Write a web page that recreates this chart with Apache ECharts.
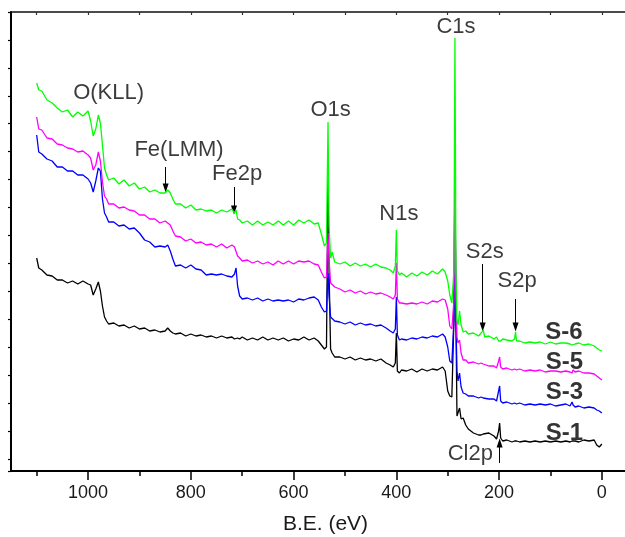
<!DOCTYPE html>
<html>
<head>
<meta charset="utf-8">
<script src="https://cdn.jsdelivr.net/npm/echarts@6/dist/echarts.min.js"></script>
<style>
  html, body { margin: 0; padding: 0; background: #fff; }
  #xps-chart { width: 625px; height: 537px; }
</style>
</head>
<body>
<div id="xps-chart"></div>
<script>
"use strict";

// binding energy (eV), shared by all spectra
var energy = [
  1100, 1096, 1090, 1080, 1070, 1060, 1050, 1040, 1030, 1020,
  1010, 1000, 995, 990, 985, 980, 976, 972, 968, 964,
  960, 950, 940, 930, 920, 910, 900, 890, 880, 870,
  860, 850, 845, 840, 835, 830, 820, 810, 800, 790,
  780, 770, 760, 750, 740, 730, 720, 715, 712, 709,
  705, 700, 690, 680, 670, 660, 650, 640, 630, 620,
  610, 600, 590, 580, 570, 560, 552, 546, 540, 536,
  533, 531, 528, 525, 520, 510, 500, 490, 480, 470,
  460, 450, 440, 430, 420, 412, 406, 402, 400, 398,
  394, 390, 380, 370, 360, 350, 340, 330, 320, 310,
  305, 300, 296, 292, 288, 286, 284, 282, 280, 277,
  274, 270, 265, 260, 250, 240, 235, 231, 228, 220,
  210, 205, 201, 199, 197, 193, 185, 175, 170, 168,
  166, 160, 150, 140, 130, 120, 110, 100, 90, 80,
  70, 62, 58, 56, 52, 45, 35, 25, 15, 10,
  5, 0
];

// intensities (a.u., offset as in the figure)
var s6 = [
  388, 381, 380, 371, 368, 363, 359, 361, 354, 359,
  355, 360, 350, 335, 342, 356, 348, 326, 303, 296,
  291, 293, 287, 291, 285, 288, 282, 284, 279, 281,
  278, 278, 281, 278, 272, 267, 267, 263, 266, 261,
  262, 260, 261, 258, 261, 259, 262, 258, 261, 252,
  251, 248, 250, 246, 250, 246, 249, 246, 250, 246,
  250, 246, 251, 248, 251, 247, 248, 237, 225, 228,
  349, 245, 213, 219, 209, 207, 209, 205, 208, 205,
  207, 204, 207, 204, 203, 201, 198, 205, 241, 200,
  196, 198, 194, 198, 195, 199, 196, 200, 197, 202,
  199, 190, 176, 168, 200, 433, 200, 150, 146, 160,
  146, 139, 140, 137, 138, 135, 138, 141, 134, 135,
  132, 134, 130, 132, 130, 132, 131, 130, 132, 139,
  130, 130, 128, 129, 128, 129, 127, 129, 127, 128,
  128, 127, 126, 128, 127, 128, 126, 127, 125, 123,
  121, 120
];
var s5 = [
  354, 342, 341, 333, 332, 327, 326, 323, 322, 319,
  320, 316, 313, 301, 306, 319, 310, 289, 275, 272,
  267, 267, 263, 264, 261, 260, 256, 256, 252, 252,
  248, 250, 248, 246, 240, 235, 234, 230, 232, 228,
  229, 226, 227, 224, 227, 223, 226, 224, 225, 215,
  213, 210, 211, 208, 210, 207, 209, 206, 210, 207,
  210, 207, 210, 209, 210, 207, 206, 199, 193, 194,
  238, 212, 188, 190, 184, 182, 179, 181, 178, 180,
  177, 179, 177, 178, 176, 174, 172, 176, 208, 172,
  168, 168, 167, 168, 167, 169, 167, 170, 169, 172,
  171, 162, 145, 142, 170, 300, 170, 134, 128, 131,
  118, 111, 111, 108, 109, 107, 108, 107, 106, 105,
  105, 103, 110, 114, 104, 102, 103, 101, 102, 103,
  101, 102, 100, 101, 100, 101, 99, 100, 100, 99,
  100, 99, 98, 101, 99, 100, 98, 98, 97, 95,
  93, 91
];
var s3 = [
  336, 319, 317, 312, 310, 304, 304, 300, 300, 296,
  296, 292, 288, 279, 290, 303, 300, 272, 258, 254,
  249, 249, 245, 246, 242, 243, 238, 231, 229, 224,
  225, 224, 226, 220, 212, 205, 206, 203, 206, 202,
  201, 196, 197, 196, 197, 195, 194, 197, 203, 185,
  175, 172, 173, 171, 173, 170, 172, 170, 171, 170,
  171, 169, 172, 171, 173, 174, 171, 164, 159, 160,
  198, 175, 154, 156, 150, 149, 147, 149, 146, 148,
  146, 147, 145, 146, 143, 140, 138, 142, 174, 136,
  131, 132, 131, 133, 132, 134, 133, 135, 134, 137,
  134, 124, 110, 108, 150, 280, 150, 100, 90, 98,
  84, 78, 77, 75, 75, 73, 74, 73, 73, 72,
  72, 70, 80, 85, 70, 68, 69, 67, 68, 68,
  67, 68, 66, 67, 66, 67, 66, 67, 65, 66,
  67, 65, 69, 66, 64, 65, 63, 64, 63, 61,
  60, 58
];
var s1 = [
  213, 203, 201, 196, 195, 191, 191, 188, 190, 187,
  190, 187, 186, 176, 182, 189, 180, 165, 154, 150,
  147, 148, 145, 146, 143, 145, 142, 143, 140, 141,
  139, 140, 143, 140, 138, 137, 138, 135, 137, 135,
  136, 134, 135, 133, 135, 133, 134, 132, 134, 133,
  132, 134, 131, 133, 131, 134, 131, 133, 131, 133,
  130, 132, 131, 134, 131, 133, 130, 126, 122, 124,
  291, 200, 122, 118, 114, 114, 112, 114, 111, 113,
  111, 112, 110, 112, 108, 106, 104, 108, 138, 100,
  98, 101, 100, 102, 99, 102, 100, 102, 101, 104,
  100, 80, 75, 74, 150, 300, 150, 55, 55, 63,
  52, 53, 46, 42, 38, 36, 36, 37, 37, 38,
  35, 32, 40, 48, 33, 30, 31, 29, 30, 29,
  30, 29, 30, 29, 30, 29, 30, 29, 30, 29,
  30, 29, 30, 29, 30, 29, 31, 30, 31, 26,
  24, 27
];

var sampleNames = ['S-1', 'S-3', 'S-5', 'S-6'];
var sampleColors = ['#000000', '#0000ff', '#ff00ff', '#00ff00'];

// tick values on the B.E. axis
var labelTicks = [0, 200, 400, 600, 800, 1000];
var minorTicks = [100, 300, 500, 700, 900, 1100];
var topTicks = [0, 100, 200, 300, 400, 500, 600, 700, 800, 900, 1000, 1100];

// peak annotations: [text, B.E., intensity]
var peakLabels = [
  ['O(KLL)', 960, 378],
  ['Fe(LMM)', 823, 321],
  ['Fe2p', 710, 297],
  ['O1s', 528, 361],
  ['N1s', 395, 257],
  ['C1s', 284, 444],
  ['S2s', 228, 219],
  ['S2p', 165, 190],
  ['Cl2p', 256, 17]
];
var sampleLabels = [
  ['S-6', 74, 139],
  ['S-5', 73, 109],
  ['S-3', 73, 79],
  ['S-1', 73, 38]
];
// arrows: [B.E., from, to]
var arrows = [
  [849, 304, 283],
  [716, 284, 261],
  [232, 207, 144],
  [168, 172, 144],
  [199, 8, 28]
];

var font = '"Liberation Sans", Arial, sans-serif';
var spectra = [s1, s3, s5, s6];

var series = spectra.map(function (vals, i) {
  return {
    name: sampleNames[i],
    type: 'line',
    data: energy.map(function (e, k) { return [e, vals[k]]; }),
    showSymbol: false,
    lineStyle: { color: sampleColors[i], width: 1.3 },
    itemStyle: { color: sampleColors[i] },
    silent: true,
    z: 2 + i
  };
});

series.push({
  type: 'scatter',
  data: peakLabels.map(function (p) { return [p[1], p[2], p[0]]; }),
  symbolSize: 0,
  silent: true,
  label: {
    show: true,
    position: 'inside',
    formatter: function (p) { return p.value[2]; },
    fontFamily: font,
    fontSize: 22,
    color: '#0a0a0a'
  },
  markLine: {
    silent: true,
    symbol: ['none', 'triangle'],
    symbolSize: [6, 9],
    label: { show: false },
    lineStyle: { color: '#000', width: 1, type: 'solid' },
    emphasis: { disabled: true },
    data: arrows.map(function (a) {
      return [{ coord: [a[0], a[1]] }, { coord: [a[0], a[2]] }];
    })
  },
  z: 10
});

series.push({
  type: 'scatter',
  data: sampleLabels.map(function (p) { return [p[1], p[2], p[0]]; }),
  symbolSize: 0,
  silent: true,
  label: {
    show: true,
    position: 'inside',
    formatter: function (p) { return p.value[2]; },
    fontFamily: font,
    fontSize: 24,
    fontWeight: 'bold',
    color: '#000'
  },
  z: 10
});

var xBase = {
  type: 'value',
  inverse: true,
  min: -45,
  max: 1150,
  splitLine: { show: false }
};

echarts.init(document.getElementById('xps-chart'))
.setOption({
  animation: false,
  backgroundColor: '#fff',
  grid: {
    left: 11,
    right: 0,
    top: 12,
    bottom: 66,
    containLabel: false,
    outerBoundsMode: 'none'
  },
  xAxis: [
    Object.assign({}, xBase, {
      position: 'bottom',
      axisLine: { onZero: false, lineStyle: { color: '#000', width: 2 } },
      axisTick: { show: true, inside: false, length: 9, customValues: labelTicks,
                  lineStyle: { color: '#000', width: 1.5 } },
      axisLabel: { customValues: labelTicks, fontSize: 18, margin: 13,
                   color: '#1a1a1a', fontFamily: font,
                   formatter: function (v) { return String(v); } },
      name: 'B.E. (eV)',
      nameLocation: 'middle',
      nameGap: 43,
      nameTextStyle: { fontSize: 21, color: '#1a1a1a', fontFamily: font, padding: [0, 0, 0, 15] }
    }),
    Object.assign({}, xBase, {
      position: 'bottom',
      axisLine: { show: false, onZero: false },
      axisTick: { show: true, inside: false, length: 5, customValues: minorTicks,
                  lineStyle: { color: '#000', width: 1.5 } },
      axisLabel: { show: false }
    }),
    Object.assign({}, xBase, {
      position: 'top',
      axisLine: { onZero: false, lineStyle: { color: '#111', width: 1.5 } },
      axisTick: { show: true, inside: true, length: 3, customValues: topTicks,
                  lineStyle: { color: '#333', width: 1.2 } },
      axisLabel: { show: false }
    })
  ],
  yAxis: [
    {
      type: 'value',
      min: 0,
      max: 459,
      position: 'left',
      axisLine: { show: true, onZero: false, lineStyle: { color: '#000', width: 2 } },
      axisTick: { show: false },
      axisLabel: { show: false },
      splitLine: { show: false }
    },
    {
      type: 'value',
      inverse: true,
      min: 0,
      max: 16.43,
      interval: 1,
      position: 'left',
      axisLine: { show: false, onZero: false },
      axisTick: { show: true, inside: false, length: 3, lineStyle: { color: '#000', width: 1.2 } },
      axisLabel: { show: false },
      splitLine: { show: false }
    }
  ],
  series: series
});
</script>
</body>
</html>
